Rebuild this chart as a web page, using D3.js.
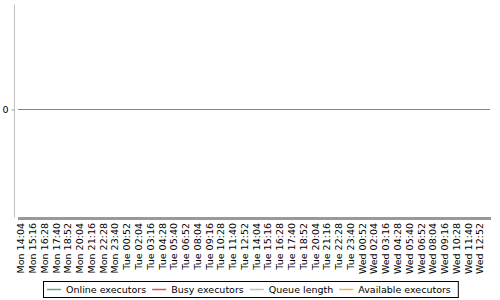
<!DOCTYPE html>
<html>
<head>
<meta charset="utf-8">
<script src="https://cdn.jsdelivr.net/npm/d3@7"></script>
<style>
  body { margin: 0; background: #fff; }
  text { font-family: "DejaVu Sans", sans-serif; fill: #000; }
</style>
</head>
<body>
<div id="chart"></div>
<script>
// tick labels (every 72 min)
const times = [
  "Mon 14:04", "Mon 15:16", "Mon 16:28", "Mon 17:40", "Mon 18:52", "Mon 20:04", "Mon 21:16", "Mon 22:28", "Mon 23:40",
  "Tue 00:52", "Tue 02:04", "Tue 03:16", "Tue 04:28", "Tue 05:40", "Tue 06:52", "Tue 08:04", "Tue 09:16", "Tue 10:28",
  "Tue 11:40", "Tue 12:52", "Tue 14:04", "Tue 15:16", "Tue 16:28", "Tue 17:40", "Tue 18:52", "Tue 20:04", "Tue 21:16",
  "Tue 22:28", "Tue 23:40", "Wed 00:52", "Wed 02:04", "Wed 03:16", "Wed 04:28", "Wed 05:40", "Wed 06:52", "Wed 08:04",
  "Wed 09:16", "Wed 10:28", "Wed 11:40", "Wed 12:52"
];

// all series are flat at zero
const onlineExecutors    = [0,0,0,0,0,0,0,0,0,0,0,0,0,0,0,0,0,0,0,0,0,0,0,0,0,0,0,0,0,0,0,0,0,0,0,0,0,0,0,0];
const busyExecutors      = [0,0,0,0,0,0,0,0,0,0,0,0,0,0,0,0,0,0,0,0,0,0,0,0,0,0,0,0,0,0,0,0,0,0,0,0,0,0,0,0];
const queueLength        = [0,0,0,0,0,0,0,0,0,0,0,0,0,0,0,0,0,0,0,0,0,0,0,0,0,0,0,0,0,0,0,0,0,0,0,0,0,0,0,0];
const availableExecutors = [0,0,0,0,0,0,0,0,0,0,0,0,0,0,0,0,0,0,0,0,0,0,0,0,0,0,0,0,0,0,0,0,0,0,0,0,0,0,0,0];

const yTicks = [0];

const series = [
  { name: "Online executors", values: onlineExecutors, color: "#5fa87a" },
  { name: "Busy executors", values: busyExecutors, color: "#d9534f" },
  { name: "Queue length", values: queueLength, color: "#c0c0c0" },
  { name: "Available executors", values: availableExecutors, color: "#f2b350" }
];

const width = 500, height = 300;
const plot = { left: 18, right: 491, top: 4, bottom: 214 };

const svg = d3.select("#chart").append("svg")
  .attr("width", width)
  .attr("height", height);

// scales
const xLine = d3.scalePoint().domain(times).range([plot.left, plot.right - 1]);
const xLabel = d3.scaleBand().domain(times).range([15, 486]);
const y = d3.scaleLinear().domain([-1, 1]).range([plot.bottom, plot.top]);

// y axis
const yAxis = svg.append("g")
  .attr("transform", "translate(14.5,0.5)")
  .call(d3.axisLeft(y).tickValues(yTicks).tickFormat(d3.format("d")).tickSize(3).tickPadding(3));
yAxis.select(".domain").attr("stroke", "#c0c0c0").attr("d", `M0,${plot.top}V${plot.bottom + 3}`);
yAxis.selectAll(".tick line").attr("stroke", "#999");
yAxis.selectAll(".tick text")
  .attr("x", -6)
  .attr("text-anchor", "end")
  .attr("font-size", "9.5px")
  .attr("fill", "#333");

// x axis bar
svg.append("rect")
  .attr("x", plot.left)
  .attr("y", 217)
  .attr("width", plot.right - plot.left)
  .attr("height", 3)
  .attr("fill", "#999");

// x labels
svg.append("g").selectAll("text")
  .data(times)
  .join("text")
  .attr("transform", d => `translate(${xLabel(d) + xLabel.bandwidth() / 2},223) rotate(-90)`)
  .attr("text-anchor", "end")
  .attr("dy", "0.35em")
  .attr("font-size", "9.5px")
  .text(d => d);

// lines
const line = d3.line()
  .x((d, i) => xLine(times[i]))
  .y(d => Math.round(y(d)) + 0.5);

series.forEach(s => {
  svg.append("path")
    .datum(s.values)
    .attr("fill", "none")
    .attr("stroke", s.color)
    .attr("stroke-width", 1.2)
    .attr("d", line);
});
// blended look of the overlapping lines
svg.append("path")
  .datum(availableExecutors)
  .attr("fill", "none")
  .attr("stroke", "#b97a3a")
  .attr("stroke-width", 1.2)
  .attr("d", line);

// legend
const legend = svg.append("g");
const box = legend.append("rect")
  .attr("fill", "#fff")
  .attr("stroke", "#000")
  .attr("stroke-width", 1);

let lx = 47;
series.forEach(s => {
  legend.append("line")
    .attr("x1", lx).attr("x2", lx + 14)
    .attr("y1", 289.5).attr("y2", 289.5)
    .attr("stroke", s.color)
    .attr("stroke-width", 1.5);
  const t = legend.append("text")
    .attr("x", lx + 19)
    .attr("y", 290)
    .attr("dy", "0.35em")
    .attr("font-size", "9.5px")
    .attr("fill", "#333")
    .text(s.name);
  lx += 19 + t.node().getComputedTextLength() + 6;
});
box.attr("x", 43.5).attr("y", 281.5).attr("width", lx - 43 + 1).attr("height", 16);
</script>
</body>
</html>
